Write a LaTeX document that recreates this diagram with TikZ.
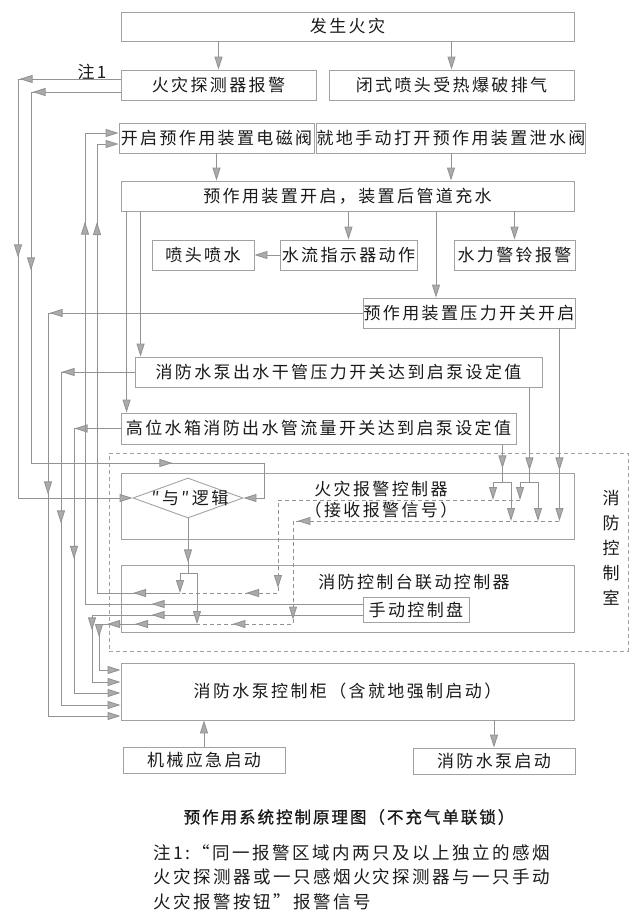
\documentclass[tikz,border=0pt]{standalone}
\usepackage{fontspec}
\setmainfont{Noto Sans CJK SC}[LetterSpace=14]
\newfontfamily\capfont{Noto Sans CJK SC}[FakeBold=1, LetterSpace=12]
\usepackage{xcolor}
\usepackage{tikz}
\usetikzlibrary{arrows.meta, positioning, shapes.geometric, decorations.markings, calc}

\definecolor{wirecol}{HTML}{939393}
\definecolor{boxcol}{HTML}{A2A2A2}
\definecolor{tipfill}{HTML}{ABABAB}
\definecolor{txtcol}{HTML}{1A1A1A}

\newcommand\boxfont{\fontsize{17}{19}\selectfont}
\tikzset{gt/.tip={Triangle[length=13pt,width=8pt,fill=tipfill]}}

\begin{document}
\begin{tikzpicture}[x=1pt, y=-1pt,
    box/.style={draw=boxcol, line width=0.9pt, inner sep=0pt, text=txtcol, font=\boxfont},
    lbl/.style={text=txtcol, font=\boxfont, inner sep=0pt},
    wire/.style={draw=wirecol, line width=0.9pt},
    arr/.style={wire, -gt},
    dwire/.style={wire, dash pattern=on 4pt off 3pt},
    midtip/.style={postaction={decorate, decoration={markings,
      mark=at position #1 with {\arrow{gt}}}}},
  ]
    \useasboundingbox (0,0) rectangle (640,924);

    % control room
    \node[draw=boxcol, line width=0.9pt, dash pattern=on 4pt off 3pt,
      minimum width=519pt, minimum height=198pt] (room) at (368.5,552) {};
    \node[lbl, align=center] (roomtxt) at (611,548) {消\\[6pt]防\\[6pt]控\\[6pt]制\\[6pt]室};

    % boxes
    \node[box, minimum width=453pt, minimum height=29pt] (fire) at (347.5,26.5) {发生火灾};
    \node[box, minimum width=195pt, minimum height=30pt] (det) at (218.5,85) {火灾探测器报警};
    \node[box, minimum width=245pt, minimum height=30pt] (sprk) at (451.5,85) {闭式喷头受热爆破排气};
    \node[lbl] (note1) at (92,72) {注1};
    \node[box, minimum width=195pt, minimum height=30pt] (sol) at (216.5,138) {开启预作用装置电磁阀};
    \node[box, minimum width=266pt, minimum height=30pt] (man) at (451,138) {就地手动打开预作用装置泄水阀};
    \node[box, minimum width=453pt, minimum height=30pt] (fill) at (347.5,196) {预作用装置开启，装置后管道充水};
    \node[box, minimum width=102pt, minimum height=30pt] (nozzle) at (203,255) {喷头喷水};
    \node[box, minimum width=137pt, minimum height=30pt] (flow) at (348.5,255) {水流指示器动作};
    \node[box, minimum width=121pt, minimum height=30pt] (bell) at (514.5,255) {水力警铃报警};
    \node[box, minimum width=212pt, minimum height=30pt] (psw) at (469,313) {预作用装置压力开关开启};
    \node[box, minimum width=407pt, minimum height=30pt] (pp) at (338.5,372) {消防水泵出水干管压力开关达到启泵设定值};
    \node[box, minimum width=395pt, minimum height=31pt] (tank) at (318.5,428.5) {高位水箱消防出水管流量开关达到启泵设定值};

    \node[box, minimum width=453pt, minimum height=66pt] (alarm) at (347.5,506) {};
    \node[lbl, align=center] (alarmtxt) at (381,500) {火灾报警控制器\\[2pt]（接收报警信号）};
    \node[draw=boxcol, line width=0.9pt, diamond, inner sep=0pt,
      minimum width=110pt, minimum height=40pt] (dia) at (188,498) {};
    \node[lbl] (diatxt) at (190,498) {″与″逻辑};

    \node[box, minimum width=453pt, minimum height=67pt] (link) at (347.5,598.5) {};
    \node[lbl] (linktxt) at (414,582) {消防控制台联动控制器};
    \node[box, minimum width=106pt, minimum height=25pt] (panel) at (416,609.5) {手动控制盘};

    \node[box, minimum width=453pt, minimum height=57pt] (cab) at (347.5,691.5) {消防水泵控制柜（含就地强制启动）};
    \node[box, minimum width=162pt, minimum height=26pt] (mech) at (204,760) {机械应急启动};
    \node[box, minimum width=162pt, minimum height=26pt] (start) at (494,761) {消防水泵启动};

    \node[text=txtcol, font=\capfont\fontsize{16.5}{19}\selectfont] (cap) at (349,817)
      {预作用系统控制原理图（不充气单联锁）};
    \node[text=txtcol, font=\fontsize{17.5}{24.5}\selectfont, align=left, anchor=west] (note) at (150,877)
      {注1:“同一报警区域内两只及以上独立的感烟\\火灾探测器或一只感烟火灾探测器与一只手动\\火灾报警按钮”报警信号};

    % rails and ports
    \coordinate (r1) at (18,0);
    \coordinate (r2) at (31,0);
    \coordinate (r3) at (48,0);
    \coordinate (r4) at (61,0);
    \coordinate (r5) at (74,0);
    \coordinate (r6) at (85,0);
    \coordinate (r7) at (92,0);
    \coordinate (r8) at (97,0);
    \coordinate (r9) at (99,0);
    \coordinate (k1) at (278,0);
    \coordinate (k2) at (293,0);
    \coordinate (bar) at (0,482);
    \coordinate (d1) at (0,500);
    \coordinate (d2) at (0,521);
    \coordinate (bb) at (264,463);
    \coordinate (c1) at ([yshift=21.5pt]cab.west);
    \coordinate (c2) at ([yshift=9.5pt]cab.west);
    \coordinate (c3) at ([yshift=-1.5pt]cab.west);
    \coordinate (c4) at ([yshift=-13.5pt]cab.west);
    \coordinate (c5) at ([yshift=-24.5pt]cab.west);
    \coordinate (s1) at ([yshift=5pt]sol.west);
    \coordinate (s2) at ([yshift=-6pt]sol.west);
    \coordinate (pswin) at ([xshift=-33pt]psw.north);
    \coordinate (ppin) at ([xshift=6pt]pp.north west);
    \coordinate (tankin) at ([xshift=6pt]tank.north west);

    % top flow
    \draw[arr] (fire.south -| det.north) -- (det.north);
    \draw[arr] (fire.south -| sprk.north) -- (sprk.north);
    \draw[arr] (sol.south) -- (fill.north -| sol.south);
    \draw[arr] (man.south) -- (fill.north -| man.south);
    \draw[arr] (fill.south -| flow.north) -- (flow.north);
    \draw[arr] (fill.south -| bell.north) -- (bell.north);
    \draw[arr] (fill.south -| pswin) -- (pswin);
    \draw[arr] (flow.west) -- (nozzle.east);
    \draw[arr] (fill.south -| ppin) -- (ppin);
    \draw[arr] (fill.south -| tankin) -- (tankin);

    % detector signals to and-logic
    \draw[arr, midtip=101pt, midtip=281pt] ([yshift=6pt]det.west) -| (r1 |- dia.west) -- (dia.west);
    \draw[arr, midtip=88pt, midtip=268pt, midtip=602pt] ([yshift=-7pt]det.west) -| (r2 |- bb) -- (bb) |- (dia.east);

    % switches to pump cabinet
    \draw[arr, midtip=313pt, midtip=496pt] (psw.west) -| (r3 |- c5) -- (c5);
    \draw[arr, midtip=73pt, midtip=225pt] (pp.west) -| (r4 |- c4) -- (c4);
    \draw[arr, midtip=46pt, midtip=177pt] (tank.west) -| (r5 |- c3) -- (c3);

    % manual panel
    \draw[arr, midtip=211pt, midtip=660pt] ([yshift=5.5pt]panel.west) -| (r6 |- s1) -- (s1);
    \draw[arr, midtip=211pt, midtip=286pt] ([yshift=-5.5pt]panel.west) -| (r7 |- c2) -- (c2);

    % and-logic output
    \coordinate (dj) at (188,573);
    \coordinate (djl) at (180,573);
    \coordinate (djr) at (197,573);
    \coordinate (m1) at (180,593);
    \coordinate (m2) at (197,624);
    \draw[wire, midtip=44pt] (dia.south) -- (dj);
    \draw[wire] (djl) -- (djr);
    \draw[arr] (djl) -- (m1);
    \draw[arr] (djr) -- (m2);
    \draw[arr, midtip=47pt, midtip=454pt] (m1) -| (r8 |- s2) -- (s2);
    \draw[arr, midtip=62pt, midtip=90pt, midtip=111pt] (m2) -| (r9 |- c1) -- (c1);

    % inputs to alarm controller
    \coordinate (tdn) at ([xshift=-14pt]tank.south east);
    \coordinate (pdn) at ([xshift=-13pt]pp.south east);
    \coordinate (sdn) at ([xshift=-16pt]psw.south east);
    \coordinate (tl) at (493,482);
    \coordinate (tr) at (511,482);
    \coordinate (pl) at (520,482);
    \coordinate (pr) at (538,482);
    \draw[wire, midtip=24pt] (tdn) -- (tdn |- bar);
    \draw[wire] (tl) -- (tr);
    \draw[arr] (tl) -- (tl |- d1);
    \draw[arr] (tr) -- (tr |- d2);
    \draw[wire, midtip=83pt] (pdn) -- (pdn |- bar);
    \draw[wire] (pl) -- (pr);
    \draw[arr] (pl) -- (pl |- d1);
    \draw[arr] (pr) -- (pr |- d2);
    \draw[arr, midtip=142pt] (sdn) -- (sdn |- d2);

    % dashed signals
    \draw[dwire, midtip=330pt, midtip=367pt] (pl |- d1) -| (k1 |- m1) -- (m1);
    \draw[dwire, midtip=262pt, midtip=365pt, midtip=430pt] (sdn |- d2) -| (k2 |- m2) -- (m2);

    % pump cabinet
    \draw[arr] (cab.south -| start.north) -- (start.north);
    \draw[arr] (mech.north) -- (cab.south -| mech.north);
  \end{tikzpicture}
\end{document}
